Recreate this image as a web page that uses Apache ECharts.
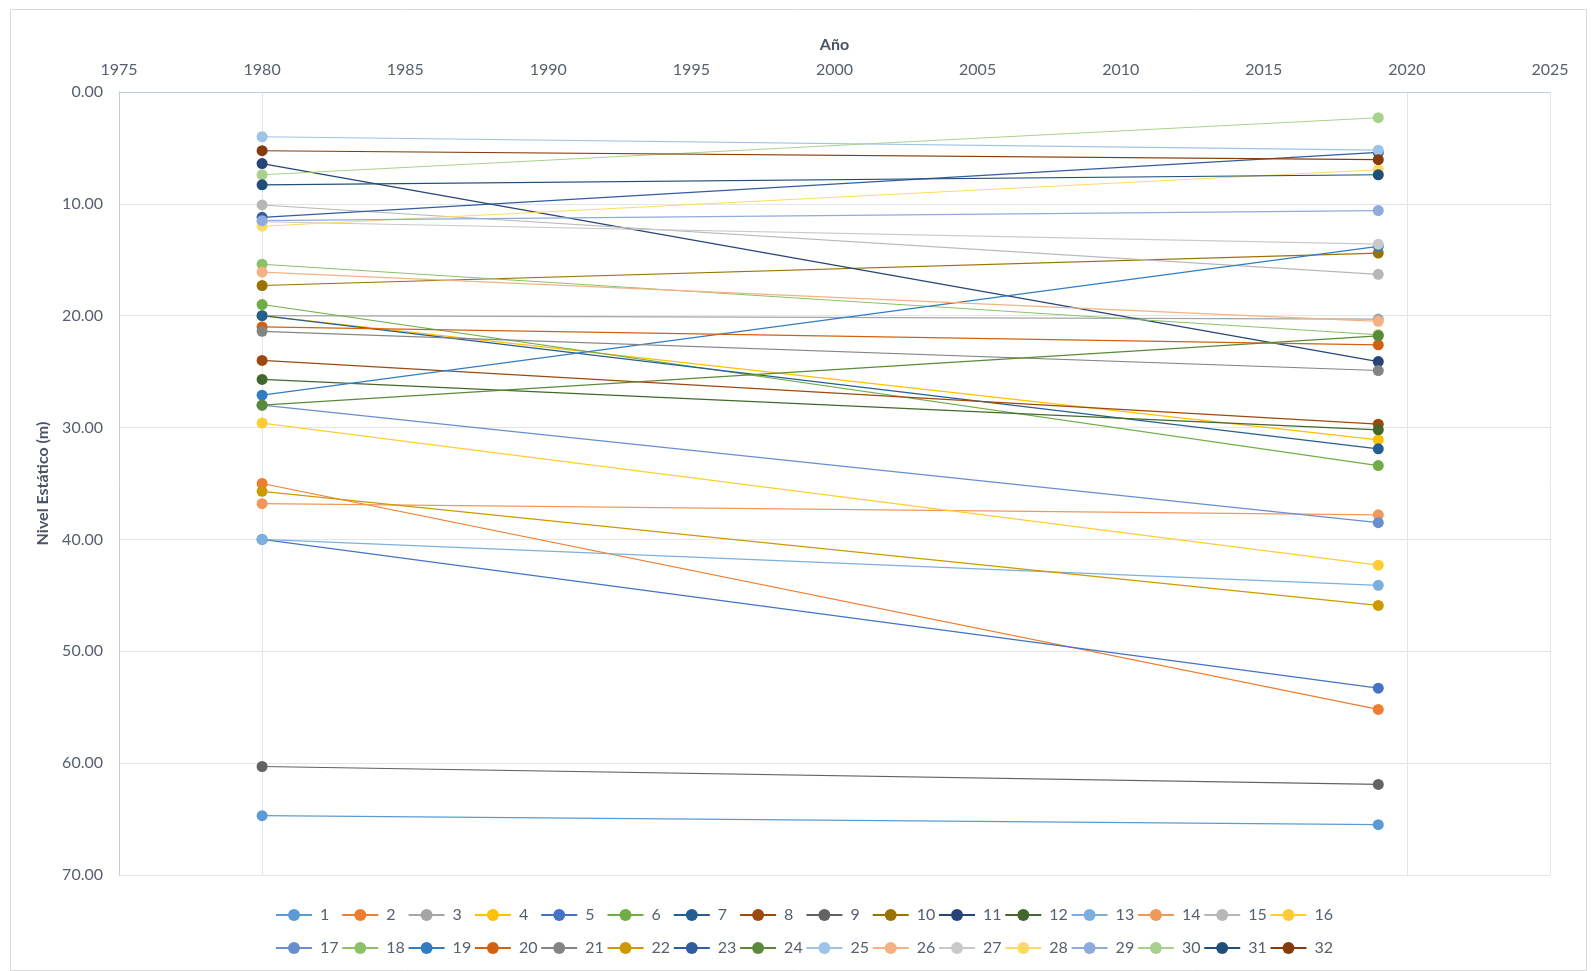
<!DOCTYPE html>
<html>
<head>
<meta charset="utf-8">
<script src="https://cdn.jsdelivr.net/npm/echarts@6/dist/echarts.min.js"></script>
<style>
html,body{margin:0;padding:0;background:#fff;}
#chart{width:1591px;height:971px;}
</style>
</head>
<body>
<div id="chart"></div>
<script>
// Data
const years = [1980, 2019];
const seriesNames = ['1','2','3','4','5','6','7','8','9','10','11','12','13','14','15','16',
  '17','18','19','20','21','22','23','24','25','26','27','28','29','30','31','32'];
const level1980 = [64.7, 35.0, 20.0, 20.0, 40.0, 19.0, 20.0, 24.0, 60.3, 17.3, 6.4, 25.7,
  40.0, 36.8, 10.1, 29.6, 28.0, 15.4, 27.1, 21.0, 21.4, 35.7, 11.2, 28.0,
  4.0, 16.1, 11.6, 12.0, 11.5, 7.4, 8.3, 5.25];
const level2019 = [65.5, 55.2, 20.3, 31.1, 53.3, 33.4, 31.9, 29.7, 61.9, 14.4, 24.1, 30.2,
  44.1, 37.8, 16.3, 42.3, 38.5, 21.7, 13.8, 22.6, 24.9, 45.9, 5.4, 21.8,
  5.2, 20.5, 13.6, 6.95, 10.6, 2.3, 7.4, 6.05];
const colors = ['#5B9BD5','#ED7D31','#A5A5A5','#FFC000','#4472C4','#70AD47',
  '#255E91','#9E480E','#636363','#997300','#264478','#43682B',
  '#7CAFDD','#F1975A','#B7B7B7','#FFCD33','#698ED0','#8CC168',
  '#327DC2','#D2600F','#848484','#CC9A00','#335BA0','#5A8A39',
  '#9DC3E6','#F4B183','#C9C9C9','#FFD966','#8FAADC','#A9D18E',
  '#1F4E79','#843C0C'];
const xTitle = 'Año';
const yTitle = 'Nivel Estático (m)';

const font = 'Lato, "Open Sans", sans-serif';
const txt = '#56606e';
const gridCol = '#E2E5EA';
const axisCol = '#C3CBD9';

const series = seriesNames.map((n, i) => ({
  name: n,
  type: 'line',
  data: [[years[0], level1980[i]], [years[1], level2019[i]]],
  symbol: 'circle',
  symbolSize: 11,
  lineStyle: { width: 1.2, color: colors[i] },
  itemStyle: { color: colors[i] },
  emphasis: { disabled: true },
  animation: false
}));

// one legend per item so columns line up like the original
const perRow = 16;
const colWidth = 66.3;
const legends = seriesNames.map((n, i) => ({
  orient: 'horizontal',
  left: 275 + (i % perRow) * colWidth,
  top: i < perRow ? 907 : 940,
  itemWidth: 36,
  itemHeight: 15,
  itemGap: 0,
  padding: 0,
  data: [n],
  textStyle: { fontFamily: font, fontSize: 16, color: txt, padding: [0, 0, 0, 3] },
  selectedMode: false
}));

const chart = echarts.init(document.getElementById('chart'));
chart.setOption({
  backgroundColor: '#fff',
  animation: false,
  color: colors,
  graphic: [{
    type: 'rect', left: 8, top: 7,
    shape: { width: 1576, height: 961 },
    style: { fill: 'none', stroke: '#D9D9D9', lineWidth: 1 },
    silent: true
  }],
  grid: { left: 119, right: 41, top: 92, bottom: 96, containLabel: false },
  xAxis: {
    type: 'value', position: 'top', min: 1975, max: 2025, interval: 5,
    name: xTitle, nameLocation: 'middle', nameGap: 39,
    nameTextStyle: { fontFamily: font, fontSize: 16, fontWeight: 'bold', color: '#4a5466' },
    axisLine: { show: true, lineStyle: { color: axisCol, width: 1 } },
    axisTick: { show: false },
    axisLabel: { fontFamily: font, fontSize: 16, color: txt, margin: 14,
      formatter: v => String(v) },
    splitLine: { show: true, lineStyle: { width: 1, color: ['rgba(0,0,0,0)', gridCol,
      'rgba(0,0,0,0)','rgba(0,0,0,0)','rgba(0,0,0,0)','rgba(0,0,0,0)','rgba(0,0,0,0)',
      'rgba(0,0,0,0)','rgba(0,0,0,0)', gridCol, gridCol] } }
  },
  yAxis: {
    type: 'value', inverse: true, min: 0, max: 70, interval: 10,
    name: yTitle, nameLocation: 'middle', nameGap: 64, nameRotate: 90,
    nameTextStyle: { fontFamily: font, fontSize: 16, fontWeight: 'bold', color: '#4a5466' },
    axisLine: { show: true, lineStyle: { color: axisCol, width: 1 } },
    axisTick: { show: false },
    axisLabel: { fontFamily: font, fontSize: 16, color: txt, margin: 16,
      formatter: v => v.toFixed(2) },
    splitLine: { show: true, lineStyle: { color: gridCol, width: 1 } }
  },
  legend: legends,
  series: series
});
</script>
</body>
</html>
